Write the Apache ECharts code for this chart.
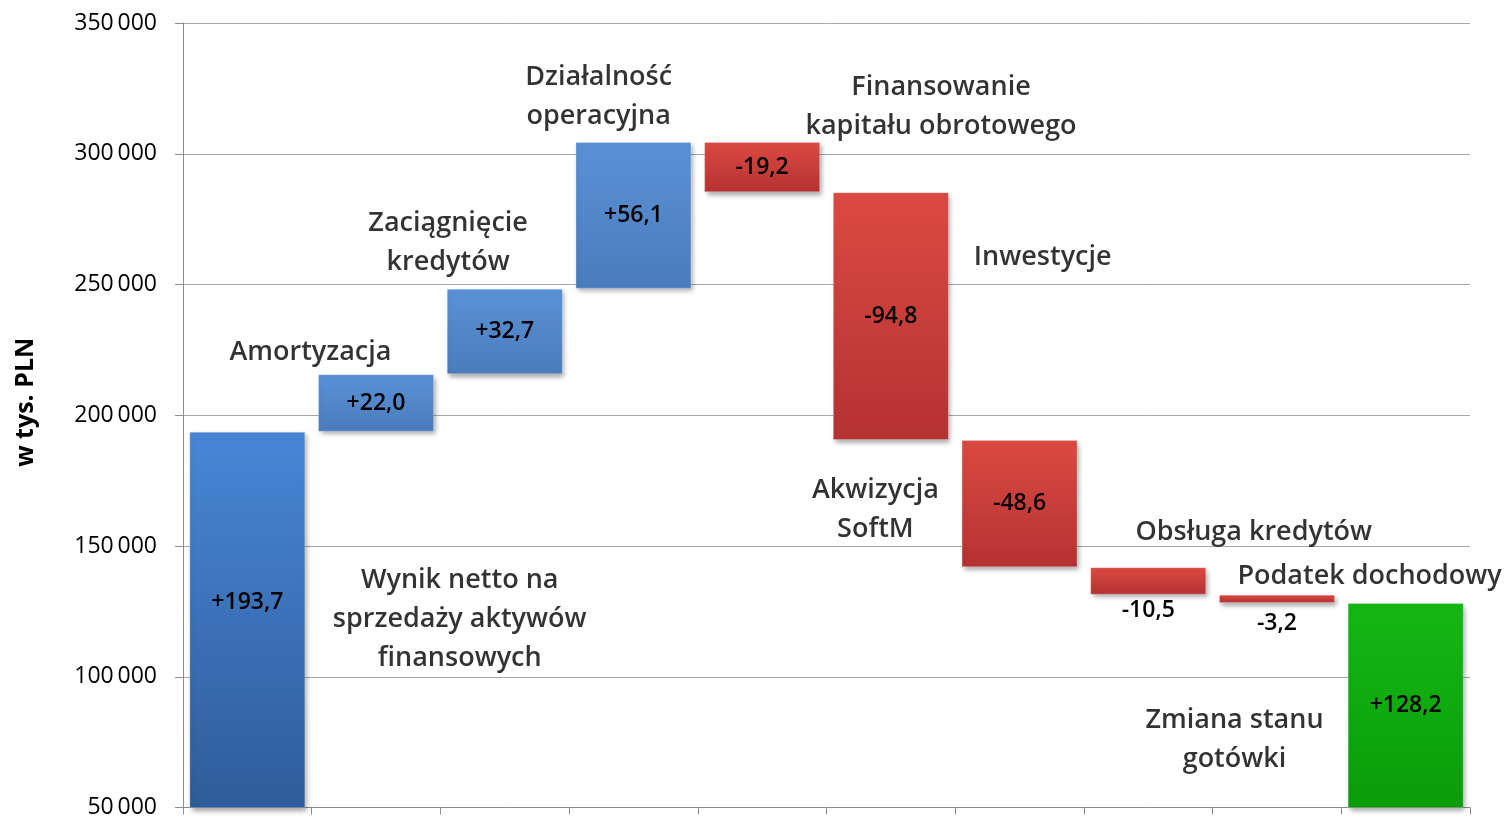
<!DOCTYPE html>
<html>
<head>
<meta charset="utf-8">
<script src="https://cdn.jsdelivr.net/npm/echarts@6/dist/echarts.min.js"></script>
<style>
  html, body { margin: 0; padding: 0; background: #fff; }
  #chart { width: 1507px; height: 819px; }
</style>
</head>
<body>
<div id="chart"></div>
<script>
const categories = [
  'Wynik netto na sprzedaży aktywów finansowych', 'Amortyzacja', 'Zaciągnięcie kredytów',
  'Działalność operacyjna', 'Finansowanie kapitału obrotowego', 'Inwestycje',
  'Akwizycja SoftM', 'Obsługa kredytów', 'Podatek dochodowy', 'Zmiana stanu gotówki'
]
// zmiany w mln (etykiety), oś w tys. PLN
const changes = [193.7, 22.0, 32.7, 56.1, -19.2, -94.8, -48.6, -10.5, -3.2, 128.2]
const isTotal = [true, false, false, false, false, false, false, false, false, true]
const yTicks = [50000, 100000, 150000, 200000, 250000, 300000, 350000]

// opisy: [pozycja x (indeks kategorii), wartość y, tekst]
const noteX = [1.65, 0.49, 1.56, 2.73, 5.39, 6.18, 4.88, 7.82, 8.72, 7.67]
const noteY = [122900, 224800, 266600, 322700, 318700, 261100, 164500, 156100, 139300, 76700]
const noteText = [
  'Wynik netto na\nsprzedaży aktywów\nfinansowych', 'Amortyzacja', 'Zaciągnięcie\nkredytów',
  'Działalność\noperacyjna', 'Finansowanie\nkapitału obrotowego', 'Inwestycje',
  'Akwizycja\nSoftM', 'Obsługa kredytów', 'Podatek dochodowy', 'Zmiana stanu\ngotówki'
]

const FONT = 'Open Sans'

function grad(top, bottom) {
  return new echarts.graphic.LinearGradient(0, 0, 0, 1, [
    { offset: 0, color: top },
    { offset: 1, color: bottom },
  ])
}

// podstawa (przezroczysta) i wysokość słupka
const base = []
const height = []
let level = 0
changes.forEach((c, i) => {
  const v = c * 1000
  if (isTotal[i]) {
    base.push(0)
    height.push(v)
    level = v
  } else if (v >= 0) {
    base.push(level)
    height.push(v)
    level += v
  } else {
    base.push(level + v)
    height.push(-v)
    level += v
  }
})

function barColor(i) {
  if (i === 0) return grad('#4886d6', '#2f5c9a')
  if (i === changes.length - 1) return grad('#14b814', '#0a9c0a')
  if (changes[i] > 0) return grad('#5a91d6', '#4a7cbc')
  return grad('#dc4a42', '#b43232')
}

function fmt(c) {
  return (c > 0 ? '+' : '') + c.toFixed(1).replace('.', ',')
}

const barData = height.map((h, i) => {
  const item = {
    value: h,
    itemStyle: { color: barColor(i) },
    label: { formatter: fmt(changes[i]) },
  }
  if (i === 0) item.label.offset = [0, -17]
  if (i === 7 || i === 8) {
    item.label.position = 'bottom'
    item.label.distance = i === 8 ? 9 : 4
  }
  return item
})

const chart = echarts.init(document.getElementById('chart'))

chart.setOption({
  animation: false,
  grid: { left: 183, right: 37, top: 23, bottom: 10, containLabel: false },
  xAxis: [
    {
      type: 'category',
      data: categories,
      axisLine: { lineStyle: { color: '#8c8c8c', width: 1 } },
      axisTick: { show: true, interval: 0, length: 7, lineStyle: { color: '#8c8c8c' } },
      axisLabel: { show: false, interval: 0 },
      splitLine: { show: false },
    },
    { type: 'value', min: -0.5, max: 9.5, show: false },
  ],
  yAxis: {
    type: 'value',
    min: yTicks[0],
    max: yTicks[yTicks.length - 1],
    interval: 50000,
    name: 'w tys. PLN',
    nameLocation: 'middle',
    nameGap: 145,
    nameTextStyle: {
      fontFamily: FONT, fontSize: 25, fontWeight: 'bold', color: '#000',
      padding: [0, 0, 0, 26],
    },
    axisLine: { show: true, onZero: false, lineStyle: { color: '#8c8c8c' } },
    axisTick: { show: true, length: 8, lineStyle: { color: '#8c8c8c' } },
    axisLabel: {
      fontFamily: FONT, fontSize: 23, color: '#000', margin: 26,
      formatter: (v) => String(v).replace(/\B(?=(\d{3})+(?!\d))/g, '\u2009'),
    },
    splitLine: { lineStyle: { color: '#a6a6a6', width: 1 } },
  },
  series: [
    {
      type: 'bar',
      stack: 'w',
      data: base,
      barWidth: 116,
      itemStyle: { color: 'transparent' },
      emphasis: { disabled: true },
      silent: true,
    },
    {
      type: 'bar',
      stack: 'w',
      data: barData,
      barWidth: 116,
      itemStyle: {
        borderColor: 'rgba(255,255,255,0.25)',
        borderWidth: 1,
        shadowBlur: 5,
        shadowOffsetX: 2,
        shadowOffsetY: 3,
        shadowColor: 'rgba(0,0,0,0.35)',
      },
      label: {
        show: true,
        position: 'inside',
        fontFamily: FONT,
        fontSize: 23,
        fontWeight: 600,
        color: '#000',
      },
    },
    {
      type: 'scatter',
      xAxisIndex: 1,
      symbolSize: 0,
      silent: true,
      data: noteX.map((x, i) => [x, noteY[i], noteText[i]]),
      label: {
        show: true,
        position: 'inside',
        offset: [0, 2],
        formatter: (p) => p.data[2],
        fontFamily: FONT,
        fontSize: 27,
        fontWeight: 600,
        lineHeight: 39,
        align: 'center',
        color: '#000',
      },
    },
  ],
})
</script>
</body>
</html>
